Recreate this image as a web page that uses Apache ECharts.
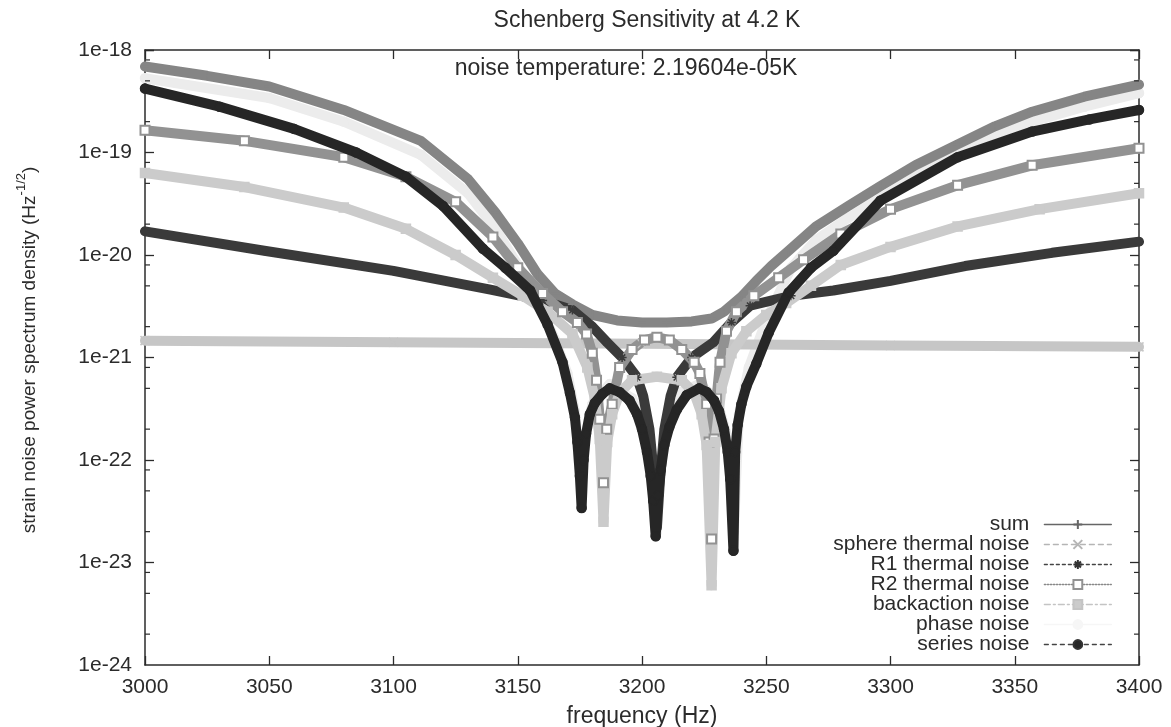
<!DOCTYPE html>
<html>
<head>
<meta charset="utf-8">
<title>Schenberg Sensitivity at 4.2 K</title>
<script src="https://cdn.jsdelivr.net/npm/echarts@6/dist/echarts.min.js"></script>
<style>
    html, body { margin: 0; padding: 0; background: #fff; }
    #chart_1 { width: 1171px; height: 727px; }
</style>
</head>
<body>
<div id="chart_1"></div>
<script>
// values: frequency (Hz) and strain noise (Hz^-1/2)
var sumF = [3000, 3025, 3050, 3080, 3111, 3130, 3141, 3150, 3158, 3165, 3172, 3180, 3190, 3200, 3210, 3220, 3228, 3233, 3240, 3246, 3252, 3259, 3270, 3283, 3296, 3310, 3327, 3342, 3357, 3378, 3400];
var sumV = [6.9e-19, 5.6e-19, 4.4e-19, 2.6e-19, 1.3e-19, 5.5e-20, 2.6e-20, 1.3e-20, 6.5e-21, 4.2e-21, 3.3e-21, 2.6e-21, 2.3e-21, 2.2e-21, 2.2e-21, 2.25e-21, 2.4e-21, 2.8e-21, 3.9e-21, 5.6e-21, 7.8e-21, 1.1e-20, 1.9e-20, 3e-20, 4.7e-20, 7.5e-20, 1.2e-19, 1.8e-19, 2.5e-19, 3.5e-19, 4.6e-19];

var sphereF = [3000, 3100, 3200, 3300, 3400];
var sphereV = [1.46e-21, 1.41e-21, 1.36e-21, 1.31e-21, 1.27e-21];

var r1F = [3000, 3048, 3100, 3139, 3160, 3172, 3180, 3186, 3192, 3198, 3200.5, 3203, 3205, 3206, 3207.2, 3209, 3211.5, 3214, 3220, 3228.6, 3236, 3243.5, 3260, 3277, 3300, 3330, 3365, 3400];
var r1V = [1.7e-20, 1.1e-20, 7e-21, 4.6e-21, 3.6e-21, 2.9e-21, 2e-21, 1.4e-21, 1e-21, 6.4e-22, 4.2e-22, 2e-22, 6.3e-23, 2.2e-23, 6.3e-23, 2e-22, 4.2e-22, 6.4e-22, 1e-21, 1.4e-21, 2.2e-21, 3.2e-21, 4e-21, 4.5e-21, 5.6e-21, 7.8e-21, 1.05e-20, 1.35e-20];

var r2F = [3000, 3040, 3080, 3105, 3125, 3140, 3150, 3160, 3168, 3174, 3177.7, 3180, 3181.7, 3183, 3184.5, 3185.8, 3188, 3191, 3196, 3201, 3206, 3211, 3216, 3221, 3223.3, 3226, 3227, 3228, 3229, 3230, 3231.4, 3234, 3238, 3245, 3255, 3265, 3280, 3300, 3327, 3357, 3400];
var r2V = [1.65e-19, 1.3e-19, 9e-20, 5.8e-20, 3.3e-20, 1.5e-20, 7.5e-21, 4.2e-21, 2.8e-21, 2.2e-21, 1.7e-21, 1.1e-21, 6e-22, 2.5e-22, 6e-23, 2e-22, 3.5e-22, 8e-22, 1.2e-21, 1.48e-21, 1.58e-21, 1.48e-21, 1.2e-21, 9e-22, 7e-22, 3.5e-22, 1.5e-22, 1.7e-23, 1.6e-22, 4e-22, 9e-22, 1.8e-21, 2.8e-21, 4e-21, 6e-21, 9e-21, 1.6e-20, 2.8e-20, 4.8e-20, 7.5e-20, 1.1e-19];

var backF = [3000, 3040, 3080, 3105, 3125, 3140, 3152, 3162, 3172, 3178, 3181, 3183, 3184.5, 3186, 3188, 3191, 3196, 3206, 3216, 3221, 3224, 3226, 3228, 3229.5, 3232, 3236, 3242, 3250, 3258, 3268, 3280, 3300, 3327, 3360, 3400];
var backV = [6.3e-20, 4.6e-20, 2.9e-20, 1.8e-20, 1e-20, 6e-21, 4e-21, 2.8e-21, 1.7e-21, 8e-22, 4e-22, 1.6e-22, 2.5e-23, 1.5e-22, 2.8e-22, 4.5e-22, 6e-22, 6.5e-22, 6e-22, 4.5e-22, 2.8e-22, 1.4e-22, 6e-24, 1.5e-22, 5e-22, 1.1e-21, 1.8e-21, 2.6e-21, 3.4e-21, 5e-21, 8e-21, 1.2e-20, 1.9e-20, 2.8e-20, 4e-20];

var phaseF = [3000, 3050, 3080, 3111, 3130, 3141, 3150, 3158, 3165, 3170, 3173, 3175.5, 3177, 3180, 3187, 3196, 3202, 3205, 3206, 3207, 3210, 3216, 3223, 3230, 3234, 3237, 3239, 3243, 3250, 3260, 3270, 3283, 3296, 3310, 3327, 3342, 3357, 3378, 3400];
var phaseV = [5.3e-19, 3.4e-19, 2e-19, 9.5e-20, 4e-20, 1.8e-20, 8e-21, 3.5e-21, 1.5e-21, 7e-22, 3e-22, 5e-23, 1.6e-22, 3.5e-22, 5.5e-22, 4e-22, 1.8e-22, 5e-23, 2e-23, 6e-23, 2.2e-22, 4.6e-22, 5.5e-22, 4e-22, 1.8e-22, 2e-23, 2.8e-22, 8e-22, 2.3e-21, 7.5e-21, 1.4e-20, 2.3e-20, 3.6e-20, 5.8e-20, 9.5e-20, 1.45e-19, 2e-19, 2.8e-19, 3.8e-19];

var seriesF = [3000, 3030, 3060, 3085, 3105, 3120, 3136, 3145, 3155, 3162, 3168, 3171, 3173, 3174, 3175, 3175.7, 3176.5, 3177.5, 3179, 3181, 3184, 3187, 3191, 3195, 3198, 3200, 3202, 3203.5, 3204.5, 3205.5, 3206.5, 3207.5, 3209, 3211, 3214, 3218, 3223, 3226, 3229, 3231, 3233, 3234.5, 3235.5, 3236.8, 3237.5, 3238.5, 3240, 3242, 3246, 3251, 3259, 3268, 3277, 3296, 3327, 3357, 3380, 3400];
var seriesV = [4.2e-19, 2.8e-19, 1.7e-19, 1e-19, 5.8e-20, 3e-20, 1.15e-20, 7.5e-21, 4.5e-21, 2.1e-21, 9e-22, 4.5e-22, 2.6e-22, 1.5e-22, 7e-23, 3.4e-23, 1e-22, 1.8e-22, 2.8e-22, 3.6e-22, 4.4e-22, 5e-22, 4.6e-22, 3.8e-22, 2.8e-22, 2e-22, 1.2e-22, 7e-23, 4e-23, 1.8e-23, 4.5e-23, 8e-23, 1.4e-22, 2.1e-22, 3.1e-22, 4.3e-22, 5e-22, 4.6e-22, 3.8e-22, 3e-22, 2e-22, 1.2e-22, 6.5e-23, 1.3e-23, 1.2e-22, 2.2e-22, 3.5e-22, 5.2e-22, 8.7e-22, 1.75e-21, 4.3e-21, 7.5e-21, 1.1e-20, 3.4e-20, 9e-20, 1.6e-19, 2.1e-19, 2.6e-19];

// axis tick labels (one per decade) and gnuplot style minor tics
var yLabels = [1e-24, 1e-23, 1e-22, 1e-21, 1e-20, 1e-19, 1e-18];
var yMinor = [2e-24, 5e-24, 8e-24, 2e-23, 5e-23, 8e-23, 2e-22, 5e-22, 8e-22, 2e-21, 5e-21, 8e-21, 2e-20, 5e-20, 8e-20, 2e-19, 5e-19, 8e-19];

var FONT = 'Liberation Sans, Arial, Helvetica, sans-serif';
var INK = '#2b2b2b';

var PLUS = 'path://M0,5L10,5M5,0L5,10';
var CROSS = 'path://M0,0L10,10M10,0L0,10';
var STAR = 'path://M5,0L5,10M0,5L10,5M1.5,1.5L8.5,8.5M8.5,1.5L1.5,8.5';

function pairs(f, v) {
    var out = [];
    for (var i = 0; i < f.length; i++) out.push([f[i], v[i]]);
    return out;
}

function noise(name, f, v, color, symbol, z) {
    return {
        name: name,
        type: 'line',
        data: pairs(f, v),
        symbol: symbol,
        symbolSize: 9,
        showSymbol: true,
        z: z,
        silent: true,
        lineStyle: { color: color, width: 10, cap: 'round', join: 'round' },
        itemStyle: { color: color, borderColor: color, borderWidth: 1.5 },
        emphasis: { disabled: true }
    };
}

(function () {
    echart_1();

    function echart_1() {
        var myChart = echarts.init(document.getElementById('chart_1'));
        var option = {
            animation: false,
            backgroundColor: '#fff',
            title: [{
                text: 'Schenberg Sensitivity at 4.2 K',
                left: 642, top: 4, textAlign: 'center',
                textStyle: { fontSize: 23, fontWeight: 'normal', color: INK, fontFamily: FONT }
            }, {
                text: 'noise temperature: 2.19604e-05K',
                left: 621, top: 52, textAlign: 'center',
                textStyle: { fontSize: 23, fontWeight: 'normal', color: INK, fontFamily: FONT }
            }],
            graphic: [{
                type: 'text',
                x: 27, y: 350,
                rotation: Math.PI / 2,
                silent: true,
                style: {
                    text: '{a|strain noise power spectrum density (Hz}{s|-1/2}{a|)}',
                    align: 'center', verticalAlign: 'middle',
                    fill: INK, font: '19px ' + FONT,
                    rich: {
                        a: { fontSize: 19, fill: INK, fontFamily: FONT, lineHeight: 24, verticalAlign: 'bottom' },
                        s: { fontSize: 13, fill: INK, fontFamily: FONT, lineHeight: 24, verticalAlign: 'top' }
                    }
                }
            }],
            grid: { left: 145, right: 32, top: 50, bottom: 62, containLabel: false, outerBoundsMode: 'none' },
            legend: {
                orient: 'vertical', align: 'right',
                right: 59, top: 514, padding: 0,
                itemWidth: 67, itemHeight: 11, itemGap: -1,
                selectedMode: false,
                textStyle: { fontSize: 21, color: INK, fontFamily: FONT, lineHeight: 20, padding: [0, 10, 0, 0] },
                data: [
                    { name: 'sum', lineStyle: { color: '#666', width: 1.3, type: 'solid' }, itemStyle: { borderColor: '#666' } },
                    { name: 'sphere thermal noise', lineStyle: { color: '#b5b5b5', width: 1.3, type: [5, 4] }, itemStyle: { borderColor: '#b5b5b5' } },
                    { name: 'R1 thermal noise', lineStyle: { color: '#444', width: 1.3, type: [3, 3] }, itemStyle: { borderColor: '#333' } },
                    { name: 'R2 thermal noise', lineStyle: { color: '#888', width: 1.3, type: [1.5, 1.5] }, itemStyle: { borderColor: '#777' } },
                    { name: 'backaction noise', lineStyle: { color: '#c4c4c4', width: 1.3, type: [6, 3, 2, 3] }, itemStyle: { borderColor: '#c4c4c4' } },
                    { name: 'phase noise', lineStyle: { color: '#f6f6f6', width: 1.3 }, itemStyle: { color: '#f6f6f6', borderColor: '#f6f6f6' } },
                    { name: 'series noise', lineStyle: { color: '#444', width: 1.3, type: [4, 4] }, itemStyle: { borderColor: '#333' } }
                ]
            },
            xAxis: [{
                type: 'value', min: 3000, max: 3400, interval: 50,
                name: 'frequency (Hz)', nameLocation: 'middle', nameGap: 40,
                nameTextStyle: { fontSize: 23, color: INK, fontFamily: FONT },
                axisLine: { onZero: false, lineStyle: { color: INK, width: 1.5 } },
                axisTick: { inside: true, length: 9, lineStyle: { color: INK, width: 1.3 } },
                axisLabel: {
                    margin: 14, fontSize: 21, lineHeight: 16, color: INK, fontFamily: FONT,
                    showMinLabel: true, showMaxLabel: true, hideOverlap: false,
                    formatter: function (v) { return String(v); }
                },
                splitLine: { show: false }
            }, {
                type: 'value', position: 'top', min: 3000, max: 3400, interval: 50,
                axisLine: { onZero: false, lineStyle: { color: INK, width: 1.5 } },
                axisTick: { inside: true, length: 9, lineStyle: { color: INK, width: 1.3 } },
                axisLabel: { show: false },
                splitLine: { show: false }
            }],
            yAxis: [{
                type: 'log', logBase: 10, min: 1e-24, max: 1e-18,
                axisLine: { onZero: false, lineStyle: { color: INK, width: 1.5 } },
                axisTick: { inside: true, length: 9, lineStyle: { color: INK, width: 1.3 } },
                axisLabel: {
                    margin: 13, fontSize: 21, lineHeight: 14, color: INK, fontFamily: FONT,
                    customValues: yLabels,
                    showMinLabel: true, showMaxLabel: true, hideOverlap: false,
                    formatter: function (v) { return '1e' + Math.round(Math.log10(v)); }
                },
                splitLine: { show: false }
            }, {
                type: 'log', logBase: 10, min: 1e-24, max: 1e-18, position: 'right',
                axisLine: { onZero: false, lineStyle: { color: INK, width: 1.5 } },
                axisTick: { inside: true, length: 9, lineStyle: { color: INK, width: 1.3 } },
                axisLabel: { show: false },
                splitLine: { show: false }
            }],
            series: [
                noise('sum', sumF, sumV, '#858585', PLUS, 2),
                noise('sphere thermal noise', sphereF, sphereV, '#c6c6c6', CROSS, 2),
                noise('R1 thermal noise', r1F, r1V, '#3a3a3a', STAR, 2),
                noise('R2 thermal noise', r2F, r2V, '#929292', 'emptyRect', 2),
                noise('backaction noise', backF, backV, '#cbcbcb', 'rect', 2),
                noise('phase noise', phaseF, phaseV, '#ececec', 'circle', 1),
                noise('series noise', seriesF, seriesV, '#262626', 'circle', 3),
                {
                    type: 'custom',
                    silent: true,
                    z: 6,
                    data: yMinor.map(function (v) { return [3000, v]; }),
                    renderItem: function (params, api) {
                        var pl = api.coord([3000, api.value(1)]);
                        var pr = api.coord([3400, api.value(1)]);
                        var st = { stroke: INK, lineWidth: 1.2 };
                        return {
                            type: 'group',
                            children: [
                                { type: 'line', shape: { x1: pl[0], y1: pl[1], x2: pl[0] + 5, y2: pl[1] }, style: st },
                                { type: 'line', shape: { x1: pr[0] - 5, y1: pr[1], x2: pr[0], y2: pr[1] }, style: st }
                            ]
                        };
                    }
                }
            ]
        };

        if (option && typeof option === 'object')
            myChart.setOption(option);
        window.addEventListener("resize", function () {
            myChart.resize();
        });
    }
})();
</script>
</body>
</html>
